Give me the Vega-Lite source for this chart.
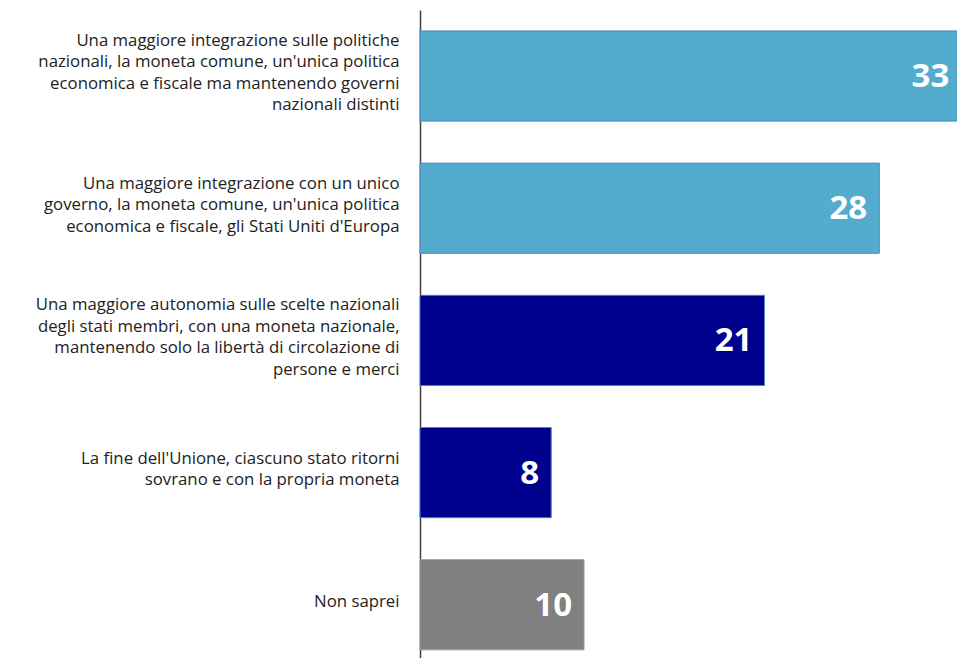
{
  "$schema": "https://vega.github.io/schema/vega-lite/v6.json",
  "autosize": {"type": "none"},
  "width": 537,
  "height": 648,
  "padding": {"left": 420, "top": 10, "right": 0, "bottom": 0},
  "background": "white",
  "config": {"view": {"stroke": null}},
  "data": {
    "values": [
      {"label": "Una maggiore integrazione sulle politiche|nazionali, la moneta comune, un'unica politica|economica e fiscale ma mantenendo governi|nazionali distinti", "value": 33, "group": "a"},
      {"label": "Una maggiore integrazione con un unico|governo, la moneta comune, un'unica politica|economica e fiscale, gli Stati Uniti d'Europa", "value": 28, "group": "a"},
      {"label": "Una maggiore autonomia sulle scelte nazionali|degli stati membri, con una moneta nazionale,|mantenendo solo la libertà di circolazione di|persone e merci", "value": 21, "group": "b"},
      {"label": "La fine dell'Unione, ciascuno stato ritorni|sovrano e con la propria moneta", "value": 8, "group": "b"},
      {"label": "Non saprei", "value": 10, "group": "c"}
    ]
  },
  "encoding": {
    "y": {
      "field": "label",
      "type": "nominal",
      "sort": null,
      "scale": {"paddingInner": 0.318, "paddingOuter": 0.11, "align": 0.72},
      "axis": {
        "title": null,
        "ticks": false,
        "domain": true,
        "domainColor": "#404040",
        "domainWidth": 1.5,
        "labelExpr": "split(datum.value, '|')",
        "labelOffset": {"expr": "-(length(split(datum.value, '|')) - 1) * 10.75 - 3"},
        "labelFont": "Open Sans",
        "labelFontSize": 16.8,
        "labelLineHeight": 21.5,
        "labelColor": "#222222",
        "labelPadding": 21,
        "labelAlign": "right",
        "labelBaseline": "middle",
        "labelLimit": 0
      }
    },
    "x": {
      "field": "value",
      "type": "quantitative",
      "scale": {"domain": [0, 32.74], "nice": false},
      "axis": null
    }
  },
  "layer": [
    {
      "mark": {"type": "bar", "strokeWidth": 1},
      "encoding": {
        "color": {
          "field": "group",
          "type": "nominal",
          "scale": {"domain": ["a", "b", "c"], "range": ["#53ABCE", "#00008F", "#808080"]},
          "legend": null
        },
        "stroke": {
          "field": "group",
          "type": "nominal",
          "scale": {"domain": ["a", "b", "c"], "range": ["#4F81BD", "#4F81BD", "#9A9A9A"]},
          "legend": null
        }
      }
    },
    {
      "mark": {"type": "text", "align": "right", "baseline": "middle", "dx": -12, "dy": 1, "font": "Open Sans", "fontWeight": "bold", "fontSize": 33, "color": "white"},
      "encoding": {
        "text": {"field": "value", "type": "quantitative"}
      }
    }
  ]
}
